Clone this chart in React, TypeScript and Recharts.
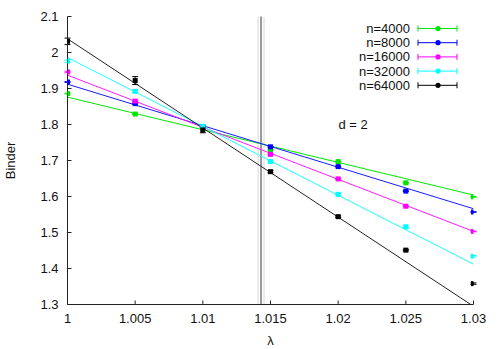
import React from 'react';
import {
  ComposedChart, Line, Scatter, XAxis, YAxis, ErrorBar, ReferenceLine, ReferenceDot, Legend,
} from 'recharts';

const lambdas = [1, 1.005, 1.01, 1.015, 1.02, 1.025, 1.03];
const xTicks = [1, 1.005, 1.01, 1.015, 1.02, 1.025, 1.03];
const yTicks = [1.3, 1.4, 1.5, 1.6, 1.7, 1.8, 1.9, 2.0, 2.1];

const seriesNames = ['n=4000', 'n=8000', 'n=16000', 'n=32000', 'n=64000'];
const seriesColors = ['#00e600', '#0000ff', '#ff00ff', '#00ffff', '#000000'];
const fitColors = ['#00e600', '#1a1aff', '#ff1aff', '#1affff', '#222222'];

const n4000 = [1.886, 1.829, 1.790, 1.730, 1.697, 1.638, 1.599];
const n8000 = [1.918, 1.858, 1.794, 1.738, 1.683, 1.615, 1.557];
const n16000 = [1.946, 1.865, 1.794, 1.717, 1.649, 1.573, 1.503];
const n32000 = [1.976, 1.892, 1.795, 1.697, 1.606, 1.516, 1.434];
const n64000 = [2.031, 1.922, 1.785, 1.669, 1.544, 1.451, 1.358];

const e4000 = [0.001, 0.001, 0.001, 0.001, 0.001, 0.001, 0.001];
const e8000 = [0.001, 0.001, 0.001, 0.001, 0.001, 0.001, 0.001];
const e16000 = [0.002, 0.002, 0.002, 0.001, 0.001, 0.001, 0.001];
const e32000 = [0.003, 0.003, 0.002, 0.002, 0.002, 0.002, 0.002];
const e64000 = [0.009, 0.011, 0.008, 0.003, 0.002, 0.002, 0.002];

// linear fit endpoints at lambda = 1 and lambda = 1.03
const fit4000 = [1.876, 1.604];
const fit8000 = [1.912, 1.566];
const fit16000 = [1.937, 1.503];
const fit32000 = [1.986, 1.412];
const fit64000 = [2.038, 1.295];

const lambdaC = 1.0143;
const lambdaCLow = 1.01408;
const lambdaCHigh = 1.01452;
const annotation = 'd = 2';
const annotationPos = { x: 1.0211, y: 1.8 };

const values = [n4000, n8000, n16000, n32000, n64000];
const errors = [e4000, e8000, e16000, e32000, e64000];
const fits = [fit4000, fit8000, fit16000, fit32000, fit64000];

const pointData = values.map((vals, s) =>
  lambdas.map((x, i) => ({ x, y: vals[i], err: errors[s][i] }))
);
const fitData = fits.map((f) => [
  { x: lambdas[0], y: f[0] },
  { x: lambdas[lambdas.length - 1], y: f[1] },
]);

const FONT = '"Liberation Sans", Arial, sans-serif';
const AXIS = '#222';
const tickStyle = { fontSize: 13, fill: '#111', fontFamily: FONT };

const renderLegend = () => (
  <svg width={170} height={80} style={{ overflow: 'visible', display: 'block' }}>
    {seriesNames.map((name, i) => {
      const cy = 9.5 + i * 14.2;
      const c = seriesColors[i];
      return (
        <g key={name}>
          <text x={110} y={cy} textAnchor="end" dominantBaseline="central" fontSize={13} fontFamily={FONT} fill="#111">
            {name}
          </text>
          <line x1={118} y1={cy} x2={157} y2={cy} stroke={c} strokeWidth={1} />
          <line x1={118} y1={cy - 3} x2={118} y2={cy + 3} stroke={c} strokeWidth={1} />
          <line x1={157} y1={cy - 3} x2={157} y2={cy + 3} stroke={c} strokeWidth={1} />
          <circle cx={138} cy={cy} r={2.6} fill={c} />
        </g>
      );
    })}
  </svg>
);

const makeSquare = (color: string) => (props: any) => {
  const { cx, cy } = props;
  if (cx == null || cy == null) return <g />;
  return <rect x={cx - 2.5} y={cy - 2.5} width={5} height={5} fill={color} />;
};

export default function App() {
  return (
    <div style={{ position: 'absolute', left: 0, top: 0, background: '#fff' }}>
      <ComposedChart
        width={498}
        height={349}
        margin={{ top: 16.5, right: 24.5, bottom: 0, left: 7.5 }}
        style={{ fontFamily: FONT }}
      >
        <XAxis
          dataKey="x"
          type="number"
          domain={[1, 1.03]}
          ticks={xTicks}
          height={44.5}
          tickSize={-4}
          tickMargin={13.5}
          tick={tickStyle}
          axisLine={{ stroke: AXIS }}
          tickLine={{ stroke: AXIS }}
          allowDataOverflow
          label={{ value: 'λ', position: 'insideBottom', offset: 4, style: { fontSize: 13, fill: '#111', fontFamily: FONT } }}
        />
        <XAxis
          xAxisId="top"
          orientation="top"
          dataKey="x"
          type="number"
          domain={[1, 1.03]}
          ticks={xTicks}
          height={0}
          tickSize={-4}
          tick={false}
          axisLine={{ stroke: AXIS }}
          tickLine={{ stroke: AXIS }}
          allowDataOverflow
        />
        <YAxis
          type="number"
          domain={[1.3, 2.1]}
          ticks={yTicks}
          width={60}
          tickSize={-4}
          tickMargin={13}
          tick={tickStyle}
          axisLine={{ stroke: AXIS }}
          tickLine={{ stroke: AXIS }}
          allowDataOverflow
          label={{ value: 'Binder', angle: -90, position: 'insideLeft', offset: 3, style: { textAnchor: 'middle', fontSize: 13, fill: '#111', fontFamily: FONT } }}
        />
        <YAxis
          yAxisId="right"
          orientation="right"
          type="number"
          domain={[1.3, 2.1]}
          ticks={yTicks}
          width={0}
          tickSize={-4}
          tick={false}
          axisLine={{ stroke: AXIS }}
          tickLine={{ stroke: AXIS }}
          allowDataOverflow
        />
        <ReferenceLine x={lambdaCLow} stroke="#b0b0b0" strokeWidth={1} strokeDasharray="1 1" />
        <ReferenceLine x={lambdaCHigh} stroke="#b0b0b0" strokeWidth={1} strokeDasharray="1 1" />
        <ReferenceLine x={lambdaC} stroke="#808080" strokeWidth={1.6} />
        {fitData.map((d, i) => (
          <Line
            key={'fit' + i}
            data={d}
            dataKey="y"
            type="linear"
            stroke={fitColors[i]}
            strokeWidth={1}
            dot={false}
            activeDot={false}
            isAnimationActive={false}
            legendType="none"
          />
        ))}
        {pointData.map((d, i) => (
          <Scatter
            key={'pts' + i}
            name={seriesNames[i]}
            data={d}
            dataKey="y"
            fill={seriesColors[i]}
            shape={makeSquare(seriesColors[i])}
            isAnimationActive={false}
          >
            <ErrorBar dataKey="err" direction="y" width={3} stroke={seriesColors[i]} strokeWidth={1} />
          </Scatter>
        ))}
        <ReferenceDot
          x={annotationPos.x}
          y={annotationPos.y}
          r={0}
          fill="none"
          stroke="none"
          label={{ value: annotation, position: 'center', style: { fontSize: 13, fill: '#111', fontFamily: FONT } }}
        />
        <Legend
          layout="vertical"
          align="center"
          verticalAlign="middle"
          content={renderLegend}
          wrapperStyle={{ position: 'absolute', left: 300, top: 19, width: 170, height: 80 }}
        />
      </ComposedChart>
    </div>
  );
}
